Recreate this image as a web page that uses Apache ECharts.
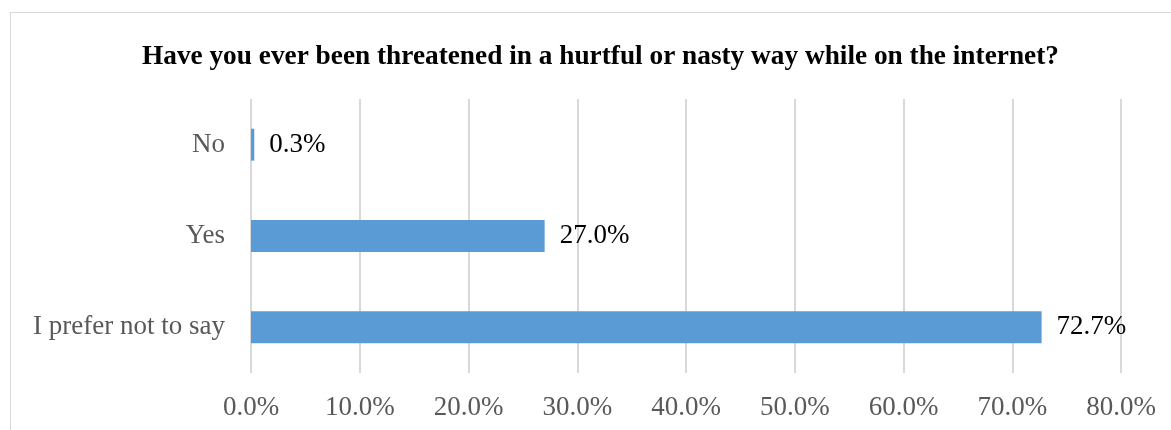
<!DOCTYPE html>
<html>
<head>
<meta charset="utf-8">
<script src="https://cdn.jsdelivr.net/npm/echarts@6/dist/echarts.min.js"></script>
<style>
  html, body { margin: 0; padding: 0; background: #fff; }
  #frame { position: absolute; left: 10px; top: 12px; width: 1200px; height: 440px;
           border-top: 1px solid #d9d9d9; border-left: 1px solid #d9d9d9; }
  #chart { position: absolute; left: 0; top: 0; width: 1171px; height: 430px; }
</style>
</head>
<body>
<div id="frame"></div>
<div id="chart"></div>
<script>
// Survey answers, bottom-to-top as drawn on the category axis
const categories = ['I prefer not to say', 'Yes', 'No'];
const shares = [72.7, 27.0, 0.3];
const axisTicks = [0, 10, 20, 30, 40, 50, 60, 70, 80];
const titleText = 'Have you ever been threatened in a hurtful or nasty way while on the internet?';

const serif = '"Liberation Serif", "Times New Roman", serif';
const chart = echarts.init(document.getElementById('chart'), null, { renderer: 'canvas' });

chart.setOption({
  animation: false,
  title: {
    text: titleText,
    left: 137,
    top: 38,
    textStyle: { fontFamily: serif, fontWeight: 'bold', fontSize: 27.3, color: '#000' }
  },
  grid: { left: 251, right: 50, top: 99, bottom: 57, containLabel: false },
  xAxis: {
    type: 'value',
    min: axisTicks[0],
    max: axisTicks[axisTicks.length - 1],
    interval: 10,
    axisLine: { show: false },
    axisTick: { show: false },
    splitLine: { show: true, lineStyle: { color: '#d9d9d9', width: 2 } },
    axisLabel: {
      margin: 21,
      fontFamily: serif, fontSize: 27, color: '#595959',
      formatter: v => v.toFixed(1) + '%'
    }
  },
  yAxis: {
    type: 'category',
    data: categories,
    axisLine: { show: false },
    axisTick: { show: false },
    axisLabel: { margin: 26, fontFamily: serif, fontSize: 27, color: '#595959' }
  },
  series: [{
    type: 'bar',
    data: shares,
    barCategoryGap: '65%',
    itemStyle: { color: '#5b9bd5' },
    label: {
      show: true,
      position: 'right',
      distance: 15,
      fontFamily: serif, fontSize: 27, color: '#000',
      formatter: p => p.value.toFixed(1) + '%'
    }
  }]
});
</script>
</body>
</html>
